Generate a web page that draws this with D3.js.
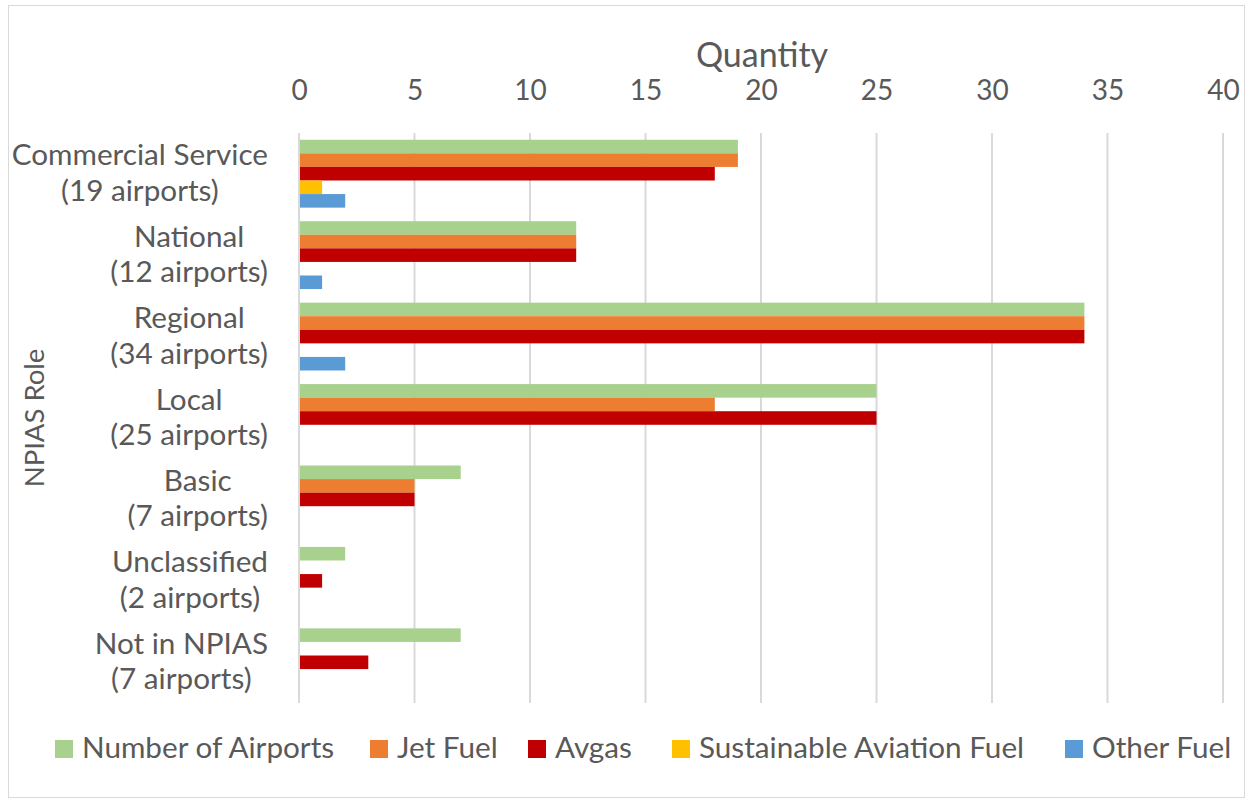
<!DOCTYPE html>
<html>
<head>
<meta charset="utf-8">
<script src="https://cdn.jsdelivr.net/npm/d3@7/dist/d3.min.js"></script>
<style>
  html, body { margin: 0; padding: 0; background: #fff; }
  svg { display: block; }
  text { font-family: Lato, "Open Sans", sans-serif; fill: #595959; }
</style>
</head>
<body>
<svg id="chart" width="1252" height="800"></svg>
<script>
// NPIAS roles (two-line labels) and fuel availability counts
const categories = [
  ["Commercial Service", "(19 airports)"],
  ["National", "(12 airports)"],
  ["Regional", "(34 airports)"],
  ["Local", "(25 airports)"],
  ["Basic", "(7 airports)"],
  ["Unclassified", "(2 airports)"],
  ["Not in NPIAS", "(7 airports)"]
];
const seriesNames = ["Number of Airports", "Jet Fuel", "Avgas", "Sustainable Aviation Fuel", "Other Fuel"];
const seriesColors = ["#A9D18E", "#ED7D31", "#C00000", "#FFC000", "#5B9BD5"];
const numberOfAirports = [19, 12, 34, 25, 7, 2, 7];
const jetFuel          = [19, 12, 34, 18, 5, 0, 0];
const avgas            = [18, 12, 34, 25, 5, 1, 3];
const sustainableFuel  = [1, 0, 0, 0, 0, 0, 0];
const otherFuel        = [2, 1, 2, 0, 0, 0, 0];
const xTicks = [0, 5, 10, 15, 20, 25, 30, 35, 40];
const xTitle = "Quantity";
const yTitle = "NPIAS Role";

const seriesValues = [numberOfAirports, jetFuel, avgas, sustainableFuel, otherFuel];

const svg = d3.select("#chart");
const labelSize = 29.7;

// chart frame
svg.append("rect")
  .attr("x", 8.5).attr("y", 5.5).attr("width", 1236).attr("height", 792)
  .attr("fill", "#fff").attr("stroke", "#d9d9d9").attr("stroke-width", 1);

const plot = { left: 299, right: 1223, top: 133, bottom: 703 };

const x = d3.scaleLinear().domain([0, 40]).range([plot.left, plot.right]);
const y = d3.scaleBand().domain(d3.range(categories.length))
  .range([plot.top, plot.bottom]).paddingInner(1 / 6).paddingOuter(1 / 12);
const ySub = d3.scaleBand().domain(d3.range(seriesNames.length))
  .range([0, y.bandwidth()]);

// vertical gridlines
svg.append("g").selectAll("line").data(xTicks).join("line")
  .attr("x1", d => x(d)).attr("x2", d => x(d))
  .attr("y1", plot.top).attr("y2", plot.bottom)
  .attr("stroke", "#d9d9d9").attr("stroke-width", 2);

// top axis labels
const xAxis = d3.axisTop(x).tickValues(xTicks).tickSize(0).tickPadding(0);
const gx = svg.append("g").attr("transform", "translate(0,100)").call(xAxis);
gx.select(".domain").remove();
gx.selectAll("text").attr("font-size", 28).attr("fill", "#595959").attr("dy", 0)
  .style("font-family", "Lato, 'Open Sans', sans-serif");

svg.append("text").attr("x", 762).attr("y", 67).attr("text-anchor", "middle")
  .attr("font-size", 34).text(xTitle);

svg.append("text").attr("transform", "translate(44,418) rotate(-90)")
  .attr("text-anchor", "middle").attr("font-size", 27.5).text(yTitle);

// bars
const groups = svg.append("g").selectAll("g").data(categories).join("g")
  .attr("transform", (d, i) => `translate(0,${y(i)})`);
groups.each(function (d, ci) {
  d3.select(this).selectAll("rect")
    .data(seriesValues.map((vals, si) => ({ si, v: vals[ci] })).filter(e => e.v > 0))
    .join("rect")
    .attr("x", x(0) + 1)
    .attr("y", e => ySub(e.si))
    .attr("width", e => x(e.v) - x(0) - 1)
    .attr("height", ySub.bandwidth())
    .attr("fill", e => seriesColors[e.si]);
});

// category labels: two lines centred within a right-aligned block
const labelRight = 268;
const labels = svg.append("g");
categories.forEach((lines, i) => {
  const cy = y(i) + y.bandwidth() / 2;
  const tmp = lines.map((t, k) => labels.append("text")
    .attr("font-size", labelSize).attr("text-anchor", "middle")
    .attr("y", cy + (k === 0 ? -8.5 : 27)).text(t));
  const w = d3.max(tmp, t => t.node().getComputedTextLength());
  tmp.forEach(t => t.attr("x", labelRight - w / 2));
});

// legend
const legendX = [55, 370, 528, 672, 1065];
const legend = svg.append("g");
seriesNames.forEach((name, i) => {
  legend.append("rect").attr("x", legendX[i]).attr("y", 740)
    .attr("width", 18).attr("height", 18).attr("fill", seriesColors[i]);
  legend.append("text").attr("x", legendX[i] + 27).attr("y", 758)
    .attr("font-size", labelSize).text(name);
});
</script>
</body>
</html>
